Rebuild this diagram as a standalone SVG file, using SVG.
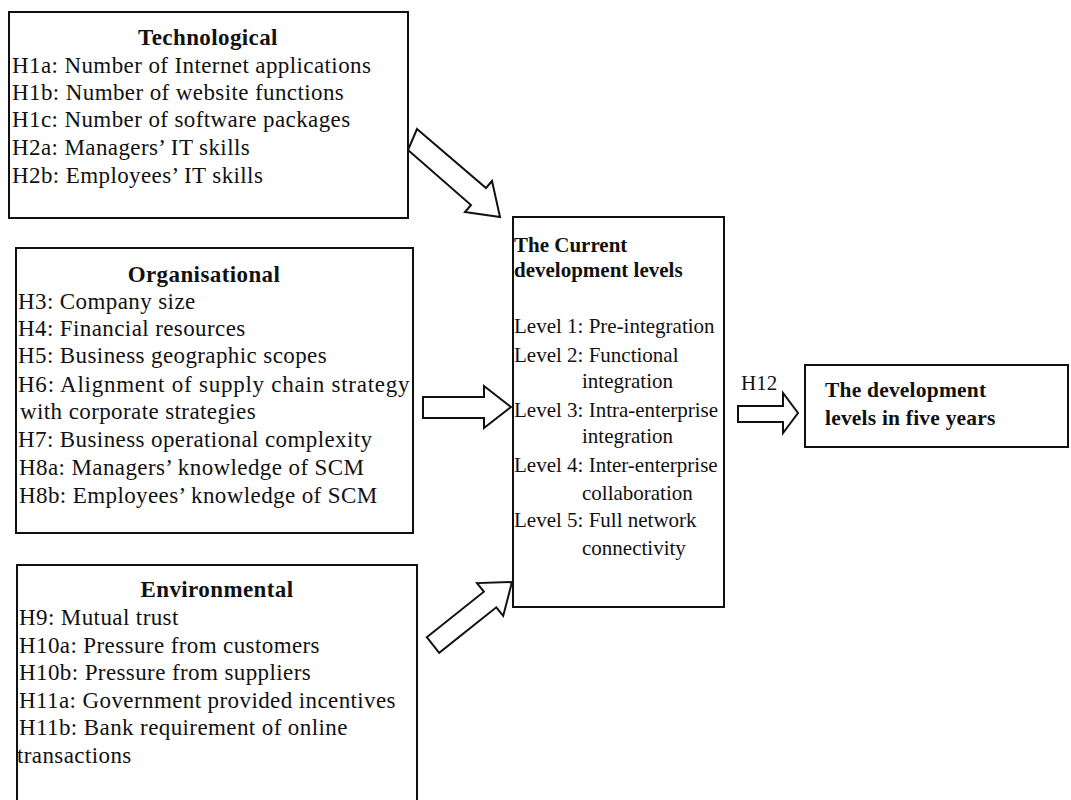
<svg xmlns="http://www.w3.org/2000/svg" width="1071" height="800" viewBox="0 0 1071 800">
<style>
.box{fill:#fff;stroke:#111;stroke-width:2}
.arr{fill:#fff;stroke:#111;stroke-width:2;stroke-linejoin:miter}
text{font-family:"Liberation Serif","Times New Roman",serif;font-size:23px;letter-spacing:0.4px;fill:#111}
.c text{font-size:21px;letter-spacing:0}
.f text{font-size:21.5px;letter-spacing:0.2px}
.b{font-weight:bold}
</style>
<rect width="1071" height="800" fill="#fff"/>
<g id="technological">
<rect class="box" x="9" y="12" width="399" height="206"/>
<text class="b" x="208" y="45" text-anchor="middle">Technological</text>
<text x="12" y="73">H1a: Number of Internet applications</text>
<text x="12" y="100">H1b: Number of website functions</text>
<text x="12" y="127">H1c: Number of software packages</text>
<text x="12" y="155">H2a: Managers’ IT skills</text>
<text x="12" y="183">H2b: Employees’ IT skills</text>
</g>
<g id="organisational">
<rect class="box" x="16" y="248" width="397" height="285"/>
<text class="b" x="204" y="282" text-anchor="middle">Organisational</text>
<text x="18" y="309">H3: Company size</text>
<text x="18" y="336">H4: Financial resources</text>
<text x="18" y="363">H5: Business geographic scopes</text>
<text x="18" y="392" textLength="392" lengthAdjust="spacing">H6: Alignment of supply chain strategy</text>
<text x="20" y="419">with corporate strategies</text>
<text x="18" y="447">H7: Business operational complexity</text>
<text x="19" y="475">H8a: Managers’ knowledge of SCM</text>
<text x="19" y="503">H8b: Employees’ knowledge of SCM</text>
</g>
<g id="environmental">
<path class="box" d="M17,812 V565 H417 V812"/>
<text class="b" x="217" y="597" text-anchor="middle">Environmental</text>
<text x="19" y="625">H9: Mutual trust</text>
<text x="19" y="653">H10a: Pressure from customers</text>
<text x="19" y="680">H10b: Pressure from suppliers</text>
<text x="19" y="708">H11a: Government provided incentives</text>
<text x="19" y="735">H11b: Bank requirement of online</text>
<text x="17" y="763">transactions</text>
</g>
<g id="current" class="c">
<rect class="box" x="513" y="217" width="211" height="390"/>
<text class="b" x="514" y="252">The Current</text>
<text class="b" x="514" y="277">development levels</text>
<text x="514" y="333">Level 1: Pre-integration</text>
<text x="514" y="362">Level 2: Functional</text>
<text x="582" y="388">integration</text>
<text x="514" y="417">Level 3: Intra-enterprise</text>
<text x="582" y="443">integration</text>
<text x="514" y="472">Level 4: Inter-enterprise</text>
<text x="582" y="500">collaboration</text>
<text x="514" y="527">Level 5: Full network</text>
<text x="582" y="555">connectivity</text>
</g>
<g id="future" class="f">
<rect class="box" x="805" y="365" width="263" height="82"/>
<text class="b" x="825" y="397">The development</text>
<text class="b" x="825" y="425">levels in five years</text>
</g>
<g id="connectors" class="c">
<polygon class="arr" points="417,129 486,188 492,181 500,217 465,212 471,205 408,150"/>
<polygon class="arr" points="423,397 484,397 484,386 511,407 484,428 484,418 423,418"/>
<polygon class="arr" points="426.8,637.2 483.9,591.7 477,583.1 512,582 503.2,615.9 496.3,607.3 439.2,652.8"/>
<polygon class="arr" points="738,406 783,406 783,393 798,413 783,433 783,422 738,422"/>
<text x="741" y="390">H12</text>
</g>
</svg>
